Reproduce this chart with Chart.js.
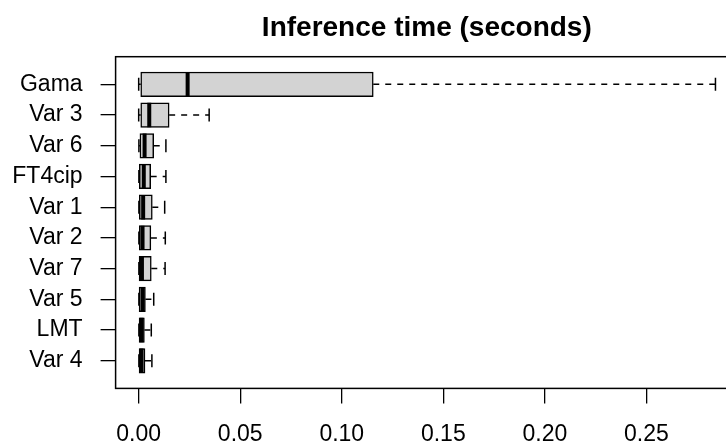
<!DOCTYPE html>
<html>
<head>
<meta charset="utf-8">
<script src="https://cdn.jsdelivr.net/npm/chart.js@4/dist/chart.umd.min.js"></script>
<style>
  html, body { margin: 0; padding: 0; background: #fff; overflow: hidden; }
  #wrap { width: 738px; height: 445px; }
</style>
</head>
<body>
<div id="wrap"><canvas id="c" width="738" height="445"></canvas></div>
<script>
// Categories, top to bottom
const categories = ['Gama', 'Var 3', 'Var 6', 'FT4cip', 'Var 1', 'Var 2', 'Var 7', 'Var 5', 'LMT', 'Var 4'];
// Box-plot statistics (seconds)
const whiskerLow  = [0.0000, 0.0000, 0.0001, 0.0001, 0.0001, 0.0001, 0.0001, 0.0001, 0.0001, 0.0001];
const q1          = [0.0010, 0.0010, 0.0006, 0.0003, 0.0003, 0.0003, 0.0002, 0.0002, 0.0002, 0.0002];
const medians     = [0.0241, 0.0052, 0.0029, 0.0025, 0.0022, 0.0019, 0.0016, 0.0019, 0.0014, 0.0014];
const q3          = [0.1155, 0.0150, 0.0074, 0.0059, 0.0067, 0.0060, 0.0062, 0.0033, 0.0028, 0.0031];
const whiskerHigh = [0.2840, 0.0347, 0.0134, 0.0134, 0.0128, 0.0131, 0.0130, 0.0074, 0.0062, 0.0065];
// Axis ticks
const xTicks = [0, 0.05, 0.10, 0.15, 0.20, 0.25];
const titleText = 'Inference time (seconds)';

const FONT = '"Liberation Sans", Arial, Helvetica, sans-serif';

const boxData = categories.map((c, i) => ({ x: [q1[i], q3[i]], y: i + 1 }));
const medianData = categories.map((c, i) => ({ x: medians[i], y: i + 1 }));
const stapleData = categories.flatMap((c, i) => [
  { x: whiskerLow[i], y: i + 1 },
  { x: whiskerHigh[i], y: i + 1 }
]);
const whiskerData = categories.flatMap((c, i) => [
  { x: q3[i], y: i + 1 }, { x: whiskerHigh[i], y: i + 1 }, { x: null, y: null },
  { x: whiskerLow[i], y: i + 1 }, { x: q1[i], y: i + 1 }, { x: null, y: null }
]);

const framePlugin = {
  id: 'frameAndTitle',
  afterDraw(chart) {
    const { ctx, chartArea: a } = chart;
    ctx.save();
    ctx.strokeStyle = '#000';
    ctx.lineWidth = 1.5;
    ctx.strokeRect(a.left, a.top, a.right - a.left, a.bottom - a.top);
    ctx.fillStyle = '#000';
    ctx.font = 'bold 28px ' + FONT;
    ctx.textAlign = 'center';
    ctx.textBaseline = 'alphabetic';
    ctx.fillText(titleText, (a.left + a.right) / 2, a.top - 20.5);
    ctx.restore();
  }
};

new Chart(document.getElementById('c'), {
  type: 'bar',
  data: {
    datasets: [
      {
        type: 'scatter',
        data: medianData,
        pointStyle: 'line',
        rotation: 90,
        pointRadius: 12.2,
        pointHoverRadius: 12.2,
        borderColor: '#000',
        backgroundColor: '#000',
        pointBorderWidth: 4,
        borderWidth: 4
      },
      {
        type: 'bar',
        indexAxis: 'y',
        data: boxData,
        backgroundColor: '#D3D3D3',
        borderColor: '#000',
        borderWidth: 1.5,
        borderSkipped: false,
        barThickness: 24.6
      },
      {
        type: 'scatter',
        data: stapleData,
        pointStyle: 'line',
        rotation: 90,
        pointRadius: 6.5,
        pointHoverRadius: 6.5,
        borderColor: '#000',
        backgroundColor: '#000',
        pointBorderWidth: 1.5,
        borderWidth: 1.5
      },
      {
        type: 'line',
        data: whiskerData,
        borderColor: '#000',
        borderWidth: 1.5,
        borderDash: [6, 6],
        pointRadius: 0,
        fill: false,
        spanGaps: false,
        tension: 0
      }
    ]
  },
  options: {
    responsive: false,
    animation: false,
    events: [],
    layout: { autoPadding: false, padding: { top: 56.7, left: 0, right: 0, bottom: 0 } },
    plugins: { legend: { display: false }, tooltip: { enabled: false }, title: { display: false } },
    scales: {
      x: {
        type: 'linear',
        position: 'bottom',
        offset: false,
        min: -0.01137,
        max: 0.2951,
        afterBuildTicks(scale) { scale.ticks = xTicks.map(v => ({ value: v })); },
        afterFit(scale) {
          scale.height = 56.6;
          scale.paddingLeft = 0; scale.paddingRight = 0;
          scale.paddingTop = 0; scale.paddingBottom = 0;
        },
        border: { display: false },
        grid: { offset: false, drawOnChartArea: false, drawTicks: true, tickLength: 15, color: '#000', lineWidth: 1.3 },
        ticks: {
          color: '#000',
          font: { family: FONT, size: 23 },
          padding: 17,
          maxRotation: 0,
          autoSkip: false,
          callback: v => Number(v).toFixed(2)
        }
      },
      y: {
        type: 'linear',
        reverse: true,
        offset: false,
        min: 0.1,
        max: 10.9,
        afterBuildTicks(scale) { scale.ticks = categories.map((c, i) => ({ value: i + 1 })); },
        afterFit(scale) {
          scale.width = 115.6;
          scale.paddingLeft = 0; scale.paddingRight = 0;
          scale.paddingTop = 0; scale.paddingBottom = 0;
        },
        border: { display: false },
        grid: { offset: false, drawOnChartArea: false, drawTicks: true, tickLength: 15, color: '#000', lineWidth: 1.3 },
        ticks: {
          color: '#000',
          font: { family: FONT, size: 23 },
          padding: 18,
          autoSkip: false,
          callback: v => categories[Math.round(v) - 1]
        }
      }
    }
  },
  plugins: [framePlugin]
});
</script>
</body>
</html>
